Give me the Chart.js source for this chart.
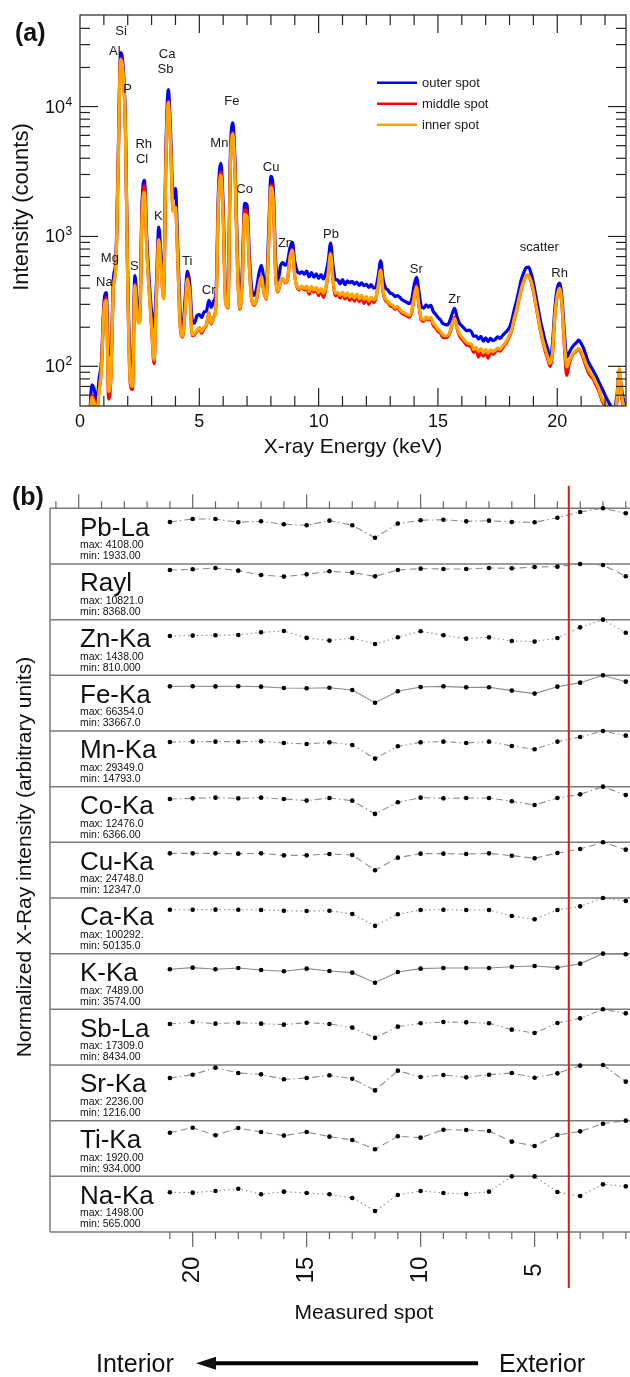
<!DOCTYPE html>
<html lang="en">
<head>
  <meta charset="utf-8">
  <title>XRF spectra and element profiles</title>
  <script src="https://cdn.jsdelivr.net/npm/chart.js@4.4.1/dist/chart.umd.min.js"></script>
  <style>
    body { margin: 0; background: #fff; }
    #wrap { position: relative; width: 630px; height: 1377px; }
    #specChart { position: absolute; left: 0; top: 0; }
    #profileChart { position: absolute; left: 0; top: 460px; }
  </style>
</head>
<body>
<div id="wrap">
  <canvas id="specChart" width="630" height="460"></canvas>
  <canvas id="profileChart" width="630" height="917"></canvas>
</div>

<script>
  // ---- panel (a): spectra, one value per 0.1 keV channel starting at 0.4 keV ----
  const channelStartKeV = 0.4;
  const channelWidthKeV = 0.1;

  const outerSpot = [
    40, 72, 66, 52, 80, 110, 300, 370, 125, 122,
    480, 650, 4000, 26000, 21000, 8000, 500, 110, 100, 500,
    300, 255, 1800, 2700, 950, 460, 262, 200, 420, 1180,
    680, 400, 4600, 13500, 6000, 1950, 2350, 800, 260, 188,
    320, 540, 430, 228, 215, 245, 250, 238, 262, 268,
    322, 285, 318, 375, 2200, 3650, 1700, 360, 320, 4200,
    7500, 3600, 700, 310, 560, 1800, 1750, 700, 390, 352,
    400, 520, 600, 480, 395, 1000, 2900, 2300, 650, 460,
    590, 630, 600, 640, 820, 900, 640, 540, 520, 535,
    512, 540, 490, 528, 486, 515, 475, 508, 470, 522,
    640, 887, 600, 468, 462, 432, 466, 425, 455, 440,
    452, 430, 445, 420, 440, 418, 428, 405, 425, 400,
    410, 500, 650, 470, 402, 388, 366, 361, 344, 350,
    340, 325, 318, 310, 305, 328, 420, 485, 380, 290,
    280, 298, 286, 295, 265, 252, 238, 228, 214, 210,
    208, 225, 255, 279, 240, 215, 205, 196, 188, 190,
    185, 170, 172, 162, 170, 156, 166, 155, 164, 158,
    161, 169, 164, 172, 180, 188, 200, 228, 275, 322,
    390, 470, 530, 575, 580, 520, 440, 350, 280, 222,
    185, 155, 135, 112, 150, 280, 400, 437, 330, 180,
    118, 128, 138, 146, 152, 159, 150, 138, 122, 108,
    100, 93, 86, 79, 72, 66, 60, 55, 51, 48,
    47, 60, 86, 66, 52, 46
  ];

  const middleSpot = [
    36, 60, 54, 45, 66, 98, 275, 335, 56, 85,
    410, 575, 3600, 23500, 19000, 7200, 430, 76, 66, 430,
    245, 220, 1600, 2450, 800, 380, 198, 105, 340, 960,
    570, 335, 3800, 11000, 4900, 1580, 1700, 630, 200, 168,
    265, 480, 365, 172, 175, 186, 198, 180, 196, 208,
    258, 212, 238, 295, 1900, 3150, 1400, 315, 282, 3500,
    6300, 3000, 570, 275, 450, 1600, 1500, 570, 320, 295,
    325, 425, 495, 375, 328, 820, 2480, 1900, 495, 375,
    450, 470, 440, 468, 700, 790, 495, 405, 388, 410,
    388, 402, 360, 405, 372, 396, 350, 390, 340, 395,
    525, 745, 462, 350, 365, 335, 368, 330, 360, 322,
    355, 318, 352, 315, 345, 305, 340, 300, 332, 310,
    335, 425, 555, 372, 322, 310, 292, 288, 275, 283,
    268, 255, 250, 244, 240, 260, 345, 415, 295, 228,
    222, 236, 228, 232, 208, 198, 186, 180, 168, 166,
    168, 182, 212, 238, 196, 172, 162, 154, 146, 145,
    140, 128, 136, 118, 132, 120, 130, 116, 128, 124,
    129, 134, 131, 138, 146, 156, 170, 192, 232, 272,
    330, 398, 455, 498, 505, 450, 375, 296, 236, 186,
    154, 130, 114, 100, 125, 240, 352, 402, 285, 140,
    85, 105, 118, 126, 131, 136, 127, 114, 100, 90,
    84, 80, 73, 67, 60, 53, 50, 47, 45, 43,
    42, 53, 92, 58, 46, 40
  ];

  const innerSpot = [
    35, 58, 52, 44, 64, 96, 262, 322, 64, 88,
    400, 560, 3500, 23000, 18500, 7000, 420, 80, 70, 420,
    240, 215, 1450, 2200, 760, 370, 200, 112, 330, 940,
    560, 330, 3700, 10800, 4800, 1560, 1680, 620, 205, 170,
    260, 470, 360, 175, 178, 190, 196, 185, 200, 210,
    255, 215, 235, 290, 1800, 2970, 1350, 300, 285, 3400,
    6160, 2900, 560, 280, 440, 1480, 1420, 560, 325, 300,
    330, 420, 490, 380, 330, 800, 2390, 1850, 500, 380,
    455, 475, 445, 470, 690, 781, 500, 410, 395, 415,
    398, 415, 378, 412, 385, 405, 370, 398, 365, 402,
    520, 736, 470, 365, 370, 352, 372, 345, 368, 340,
    362, 335, 360, 330, 352, 328, 345, 318, 340, 325,
    340, 420, 548, 380, 330, 318, 300, 295, 282, 290,
    275, 262, 258, 250, 247, 265, 340, 407, 300, 235,
    228, 240, 232, 238, 215, 205, 192, 186, 175, 172,
    173, 185, 210, 233, 200, 178, 168, 160, 152, 150,
    148, 135, 140, 130, 137, 127, 135, 126, 134, 130,
    133, 138, 135, 142, 150, 160, 173, 195, 235, 275,
    335, 400, 455, 495, 500, 455, 380, 300, 240, 190,
    158, 135, 118, 105, 130, 245, 350, 398, 290, 150,
    99, 110, 120, 128, 133, 137, 130, 118, 105, 95,
    88, 83, 76, 70, 62, 55, 52, 49, 47, 45,
    44, 55, 96, 60, 48, 42
  ];

  const energyKeV = outerSpot.map((_, i) => +(channelStartKeV + i * channelWidthKeV).toFixed(2));

  // peak annotations (keV, counts)
  const peakNames  = ['Si', 'Al', 'P', 'Ca', 'Sb', 'Fe', 'Mn', 'Rh', 'Cl', 'Co', 'Cu', 'K', 'Na', 'Mg', 'S', 'Ti', 'Cr', 'Zn', 'Pb', 'Sr', 'Zr', 'scatter', 'Rh'];
  const peakKeV    = [1.72, 1.46, 1.99, 3.65, 3.58, 6.36, 5.84, 2.67, 2.60, 6.90, 8.01, 3.28, 1.02, 1.25, 2.28, 4.49, 5.39, 8.61, 10.52, 14.09, 15.69, 19.25, 20.10];
  const peakCounts = [37950, 26620, 13440, 25120, 19150, 10920, 5220, 5100, 3910, 2290, 3410, 1430, 445, 681, 591, 642, 385, 888, 1036, 557, 327, 818, 522];

  // ---- panel (b): counts per measured spot (21 -> 1) ----
  const spots = [21, 20, 19, 18, 17, 16, 15, 14, 13, 12, 11, 10, 9, 8, 7, 6, 5, 4, 3, 2, 1];
  const elementNames = ['Pb-La', 'Rayl', 'Zn-Ka', 'Fe-Ka', 'Mn-Ka', 'Co-Ka', 'Cu-Ka', 'Ca-Ka', 'K-Ka', 'Sb-La', 'Sr-Ka', 'Ti-Ka', 'Na-Ka'];

  const pbLa = [3097, 3322, 3315, 3076, 3150, 2930, 2856, 3198, 2861, 1933, 2979, 3224, 3268, 3146, 3195, 3098, 3079, 3416, 3839, 4108, 3741];
  const rayl = [9652, 9782, 10042, 9522, 8678, 8368, 8808, 9393, 9133, 8419, 9652, 9912, 9847, 9851, 10042, 9977, 10237, 10302, 10821, 10626, 8420];
  const znKa = [1017, 1026, 1033, 1042, 1111, 1144, 966, 897, 963, 810, 983, 1137, 1035, 947, 981, 888, 871, 964, 1239, 1438, 1101];
  const feKa = [53210, 53290, 53150, 53240, 52810, 51230, 50840, 51610, 48920, 33667, 47300, 52430, 53220, 52010, 52040, 48110, 44530, 52820, 57590, 66354, 58780];
  const mnKa = [23540, 23710, 23720, 23705, 23890, 23015, 22480, 23360, 21990, 14793, 21280, 23365, 23712, 23010, 23718, 21450, 19690, 23716, 26180, 29349, 26880];
  const coKa = [9706, 9856, 10006, 9851, 10010, 9704, 9345, 9931, 9342, 6366, 8970, 10006, 9858, 9931, 9928, 9195, 8371, 9933, 10754, 12476, 10605];
  const cuKa = [19848, 19850, 19845, 19699, 19848, 18957, 18960, 19551, 19105, 12347, 17942, 19699, 19702, 19551, 19848, 18808, 17645, 19996, 21778, 24748, 21481];
  const caKa = [79231, 79228, 79235, 79230, 78629, 77425, 76824, 77428, 71508, 50135, 70906, 78629, 79231, 78632, 78626, 67898, 61880, 78629, 85248, 100292, 94876];
  const kKa  = [5385, 5609, 5385, 5564, 5295, 5115, 5474, 5160, 4935, 3574, 5025, 5474, 5564, 5566, 5562, 5737, 5826, 5609, 6141, 7489, 7399];
  const sbLa = [12757, 13363, 12861, 13155, 12861, 12549, 13155, 12757, 11614, 8434, 11926, 12964, 13363, 13259, 12964, 10991, 9953, 13051, 14505, 17309, 16063];
  const srKa = [1713, 1847, 2129, 1914, 1860, 1661, 1713, 1820, 1686, 1216, 2008, 1753, 1834, 1740, 1847, 1914, 1726, 1901, 2209, 2236, 1567];
  const tiKa = [1505, 1678, 1415, 1667, 1528, 1404, 1528, 1369, 1254, 934, 1380, 1334, 1609, 1597, 1563, 1196, 1046, 1427, 1551, 1816, 1920];
  const naKa = [1068, 1059, 1104, 1165, 1014, 1086, 1050, 1014, 915, 565, 996, 1104, 1050, 1023, 1086, 1498, 1496, 1077, 969, 1282, 1228];

  const profileRows = [pbLa, rayl, znKa, feKa, mnKa, coKa, cuKa, caKa, kKa, sbLa, srKa, tiKa, naKa];
  const boundarySpot = 3.5;

  // line styles, kept apart from the data
  const rowStyles = ['dashdot', 'dash', 'dot', 'solid', 'dashdotdot', 'dashdot', 'dash', 'dot', 'solid', 'dashdotdot', 'dashdot', 'dash', 'dot'];
  const dashes = {
    solid: [],
    dot: [1.5, 3],
    dash: [7, 4],
    dashdot: [7, 3, 1.5, 3],
    dashdotdot: [6, 3, 1.5, 3, 1.5, 3]
  };

  const FONT = "'Liberation Sans', Arial, Helvetica, sans-serif";

  function seg(ctx, x1, y1, x2, y2) {
    ctx.beginPath();
    ctx.moveTo(x1, y1);
    ctx.lineTo(x2, y2);
    ctx.stroke();
  }

  function fmt6(v) {
    let s = Number(v).toPrecision(6);
    if (s.indexOf('.') < 0) s += '.';
    return s;
  }

  // ---------- panel (a) ----------
  const specDecor = {
    id: 'specDecor',
    afterDatasetsDraw(chart) {
      const ctx = chart.ctx;
      const a = chart.chartArea;
      const x = chart.scales.x, y = chart.scales.y;
      ctx.save();
      ctx.strokeStyle = '#222';
      ctx.lineWidth = 1.2;
      ctx.strokeRect(a.left, a.top, a.right - a.left, a.bottom - a.top);

      // energy ticks, inward on top and bottom
      for (let e = 1; e <= 22; e++) {
        const px = x.getPixelForValue(e);
        const len = e % 5 === 0 ? 18 : 10;
        seg(ctx, px, a.bottom, px, a.bottom - len);
        seg(ctx, px, a.top, px, a.top + len);
      }
      // log ticks, inward on left and right
      for (let d = 1; d <= 4; d++) {
        for (let m = 1; m <= 9; m++) {
          const v = m * Math.pow(10, d);
          const py = y.getPixelForValue(v);
          if (py > a.bottom - 2 || py < a.top + 2) continue;
          const len = m === 1 ? 18 : 10;
          seg(ctx, a.left, py, a.left + len, py);
          seg(ctx, a.right, py, a.right - len, py);
        }
      }

      ctx.fillStyle = '#111';
      // y tick labels 10^n
      [2, 3, 4].forEach(p => {
        const py = y.getPixelForValue(Math.pow(10, p));
        ctx.font = '18px ' + FONT;
        ctx.textAlign = 'right';
        ctx.textBaseline = 'middle';
        ctx.fillText('10', 65, py + 1);
        ctx.font = '12px ' + FONT;
        ctx.textAlign = 'left';
        ctx.textBaseline = 'alphabetic';
        ctx.fillText(String(p), 65.5, py - 1);
      });
      // x tick labels
      ctx.font = '18px ' + FONT;
      ctx.textAlign = 'center';
      ctx.textBaseline = 'alphabetic';
      [0, 5, 10, 15, 20].forEach(e => ctx.fillText(String(e), x.getPixelForValue(e), 426.7));

      // axis titles
      ctx.font = '21px ' + FONT;
      ctx.fillText('X-ray Energy (keV)', (a.left + a.right) / 2, 453);
      ctx.save();
      ctx.translate(28, 207);
      ctx.rotate(-Math.PI / 2);
      ctx.font = '22px ' + FONT;
      ctx.fillText('Intensity (counts)', 0, 0);
      ctx.restore();

      // panel letter
      ctx.font = 'bold 25px ' + FONT;
      ctx.textAlign = 'left';
      ctx.fillText('(a)', 15, 41);

      // peak labels
      ctx.font = '13px ' + FONT;
      ctx.textAlign = 'center';
      ctx.textBaseline = 'middle';
      ctx.fillStyle = '#1a1a1a';
      peakNames.forEach((n, i) => {
        ctx.fillText(n, x.getPixelForValue(peakKeV[i]), y.getPixelForValue(peakCounts[i]));
      });

      // legend
      const legend = [['outer spot', '#0000ff'], ['middle spot', '#ff0000'], ['inner spot', '#ffa500']];
      ctx.textAlign = 'left';
      legend.forEach((it, i) => {
        const ly = 82.7 + i * 21;
        ctx.strokeStyle = it[1];
        ctx.lineWidth = 2.5;
        seg(ctx, 377, ly, 417, ly);
        ctx.fillStyle = '#1a1a1a';
        ctx.fillText(it[0], 422, ly + 0.5);
      });
      ctx.restore();
    }
  };

  const toPoints = arr => arr.map((c, i) => ({ x: energyKeV[i], y: c }));

  new Chart(document.getElementById('specChart'), {
    type: 'line',
    data: {
      datasets: [
        { label: 'inner spot', data: toPoints(innerSpot), borderColor: '#ffa500', order: 0 },
        { label: 'middle spot', data: toPoints(middleSpot), borderColor: '#ff0000', order: 1 },
        { label: 'outer spot', data: toPoints(outerSpot), borderColor: '#0000ff', order: 2 }
      ]
    },
    options: {
      responsive: false,
      animation: false,
      events: [],
      layout: { padding: { left: 80, right: 4, top: 15, bottom: 54 } },
      elements: {
        line: { borderWidth: 3.2, cubicInterpolationMode: 'monotone' },
        point: { radius: 0 }
      },
      plugins: { legend: { display: false }, tooltip: { enabled: false } },
      scales: {
        x: { type: 'linear', min: 0, max: 22.88, display: false },
        y: { type: 'logarithmic', min: 49.5, max: 50700, display: false }
      }
    },
    plugins: [specDecor]
  });

  // ---------- panel (b) ----------
  const OFF = 460; // canvas top on the page
  const profileDecor = {
    id: 'profileDecor',
    beforeDatasetsDraw(chart) {
      const ctx = chart.ctx;
      const a = chart.chartArea;
      const x = chart.scales.x, y = chart.scales.y;
      ctx.save();
      ctx.strokeStyle = '#7a7a7a';
      ctx.lineWidth = 1.5;
      for (let r = 0; r <= 13; r++) {
        const py = y.getPixelForValue(r);
        seg(ctx, a.left, py, 630, py);
      }
      seg(ctx, a.left, a.top, a.left, a.bottom);

      ctx.strokeStyle = '#666';
      ctx.lineWidth = 1.2;
      for (let s = 1; s <= 26; s++) {
        const px = x.getPixelForValue(s);
        seg(ctx, px, a.top, px, a.top - (s % 5 === 0 ? 14 : 7));
      }
      for (let s = 1; s <= 21; s++) {
        const px = x.getPixelForValue(s);
        seg(ctx, px, a.bottom, px, a.bottom + (s % 5 === 0 ? 15 : 7));
      }
      ctx.restore();
    },
    afterDatasetsDraw(chart) {
      const ctx = chart.ctx;
      const a = chart.chartArea;
      const x = chart.scales.x, y = chart.scales.y;
      ctx.save();
      // boundary line
      const bx = x.getPixelForValue(boundarySpot);
      ctx.strokeStyle = '#ee1111';
      ctx.lineWidth = 2;
      seg(ctx, bx, 485.7 - OFF, bx, 1288 - OFF);

      // row labels
      ctx.fillStyle = '#111';
      ctx.textAlign = 'left';
      ctx.textBaseline = 'alphabetic';
      profileRows.forEach((row, k) => {
        const top = y.getPixelForValue(13 - k);
        ctx.font = '26px ' + FONT;
        ctx.fillText(elementNames[k], 80, top + 27.5);
        ctx.font = '10.5px ' + FONT;
        ctx.fillText('max: ' + fmt6(Math.max(...row)), 80, top + 40);
        ctx.fillText('min: ' + fmt6(Math.min(...row)), 80, top + 51);
      });

      // spot labels, rotated
      ctx.font = '24px ' + FONT;
      ctx.textAlign = 'center';
      ctx.textBaseline = 'middle';
      [20, 15, 10, 5].forEach(s => {
        ctx.save();
        ctx.translate(x.getPixelForValue(s), 1270 - OFF);
        ctx.rotate(-Math.PI / 2);
        ctx.fillText(String(s), 0, 0);
        ctx.restore();
      });

      ctx.font = '21px ' + FONT;
      ctx.fillText('Measured spot', 364, 1313 - OFF);

      ctx.save();
      ctx.translate(31, 857 - OFF);
      ctx.rotate(-Math.PI / 2);
      ctx.textBaseline = 'alphabetic';
      ctx.font = '21px ' + FONT;
      ctx.fillText('Normalized X-Ray intensity (arbitrary units)', 0, 0);
      ctx.restore();

      ctx.textAlign = 'left';
      ctx.textBaseline = 'alphabetic';
      ctx.font = 'bold 25px ' + FONT;
      ctx.fillText('(b)', 12, 505 - OFF);

      // Interior <- Exterior
      ctx.font = '25px ' + FONT;
      ctx.fillText('Interior', 96, 1372 - OFF);
      ctx.fillText('Exterior', 499, 1372 - OFF);
      const ay = 1363.3 - OFF;
      ctx.strokeStyle = '#000';
      ctx.lineWidth = 4;
      seg(ctx, 210, ay, 478, ay);
      ctx.beginPath();
      ctx.moveTo(196, ay);
      ctx.lineTo(216, ay - 6.5);
      ctx.lineTo(216, ay + 6.5);
      ctx.closePath();
      ctx.fill();
      ctx.restore();
    }
  };

  new Chart(document.getElementById('profileChart'), {
    type: 'line',
    data: {
      datasets: profileRows.map((row, k) => {
        const top = Math.max(...row);
        return {
          label: elementNames[k],
          data: row.map((c, i) => ({ x: spots[i], y: (12 - k) + c / top })),
          borderColor: '#8c8c8c',
          borderWidth: 1.1,
          borderDash: dashes[rowStyles[k]],
          pointRadius: 2.3,
          pointBackgroundColor: '#000',
          pointBorderWidth: 0,
          tension: 0,
          clip: false
        };
      })
    },
    options: {
      responsive: false,
      animation: false,
      events: [],
      layout: { padding: { left: 50, right: 0, top: 48.3, bottom: 145 } },
      plugins: { legend: { display: false }, tooltip: { enabled: false } },
      scales: {
        x: { type: 'linear', reverse: true, min: 0.99, max: 26.26, display: false },
        y: { type: 'linear', min: 0, max: 13, display: false }
      }
    },
    plugins: [profileDecor]
  });
</script>
</body>
</html>
